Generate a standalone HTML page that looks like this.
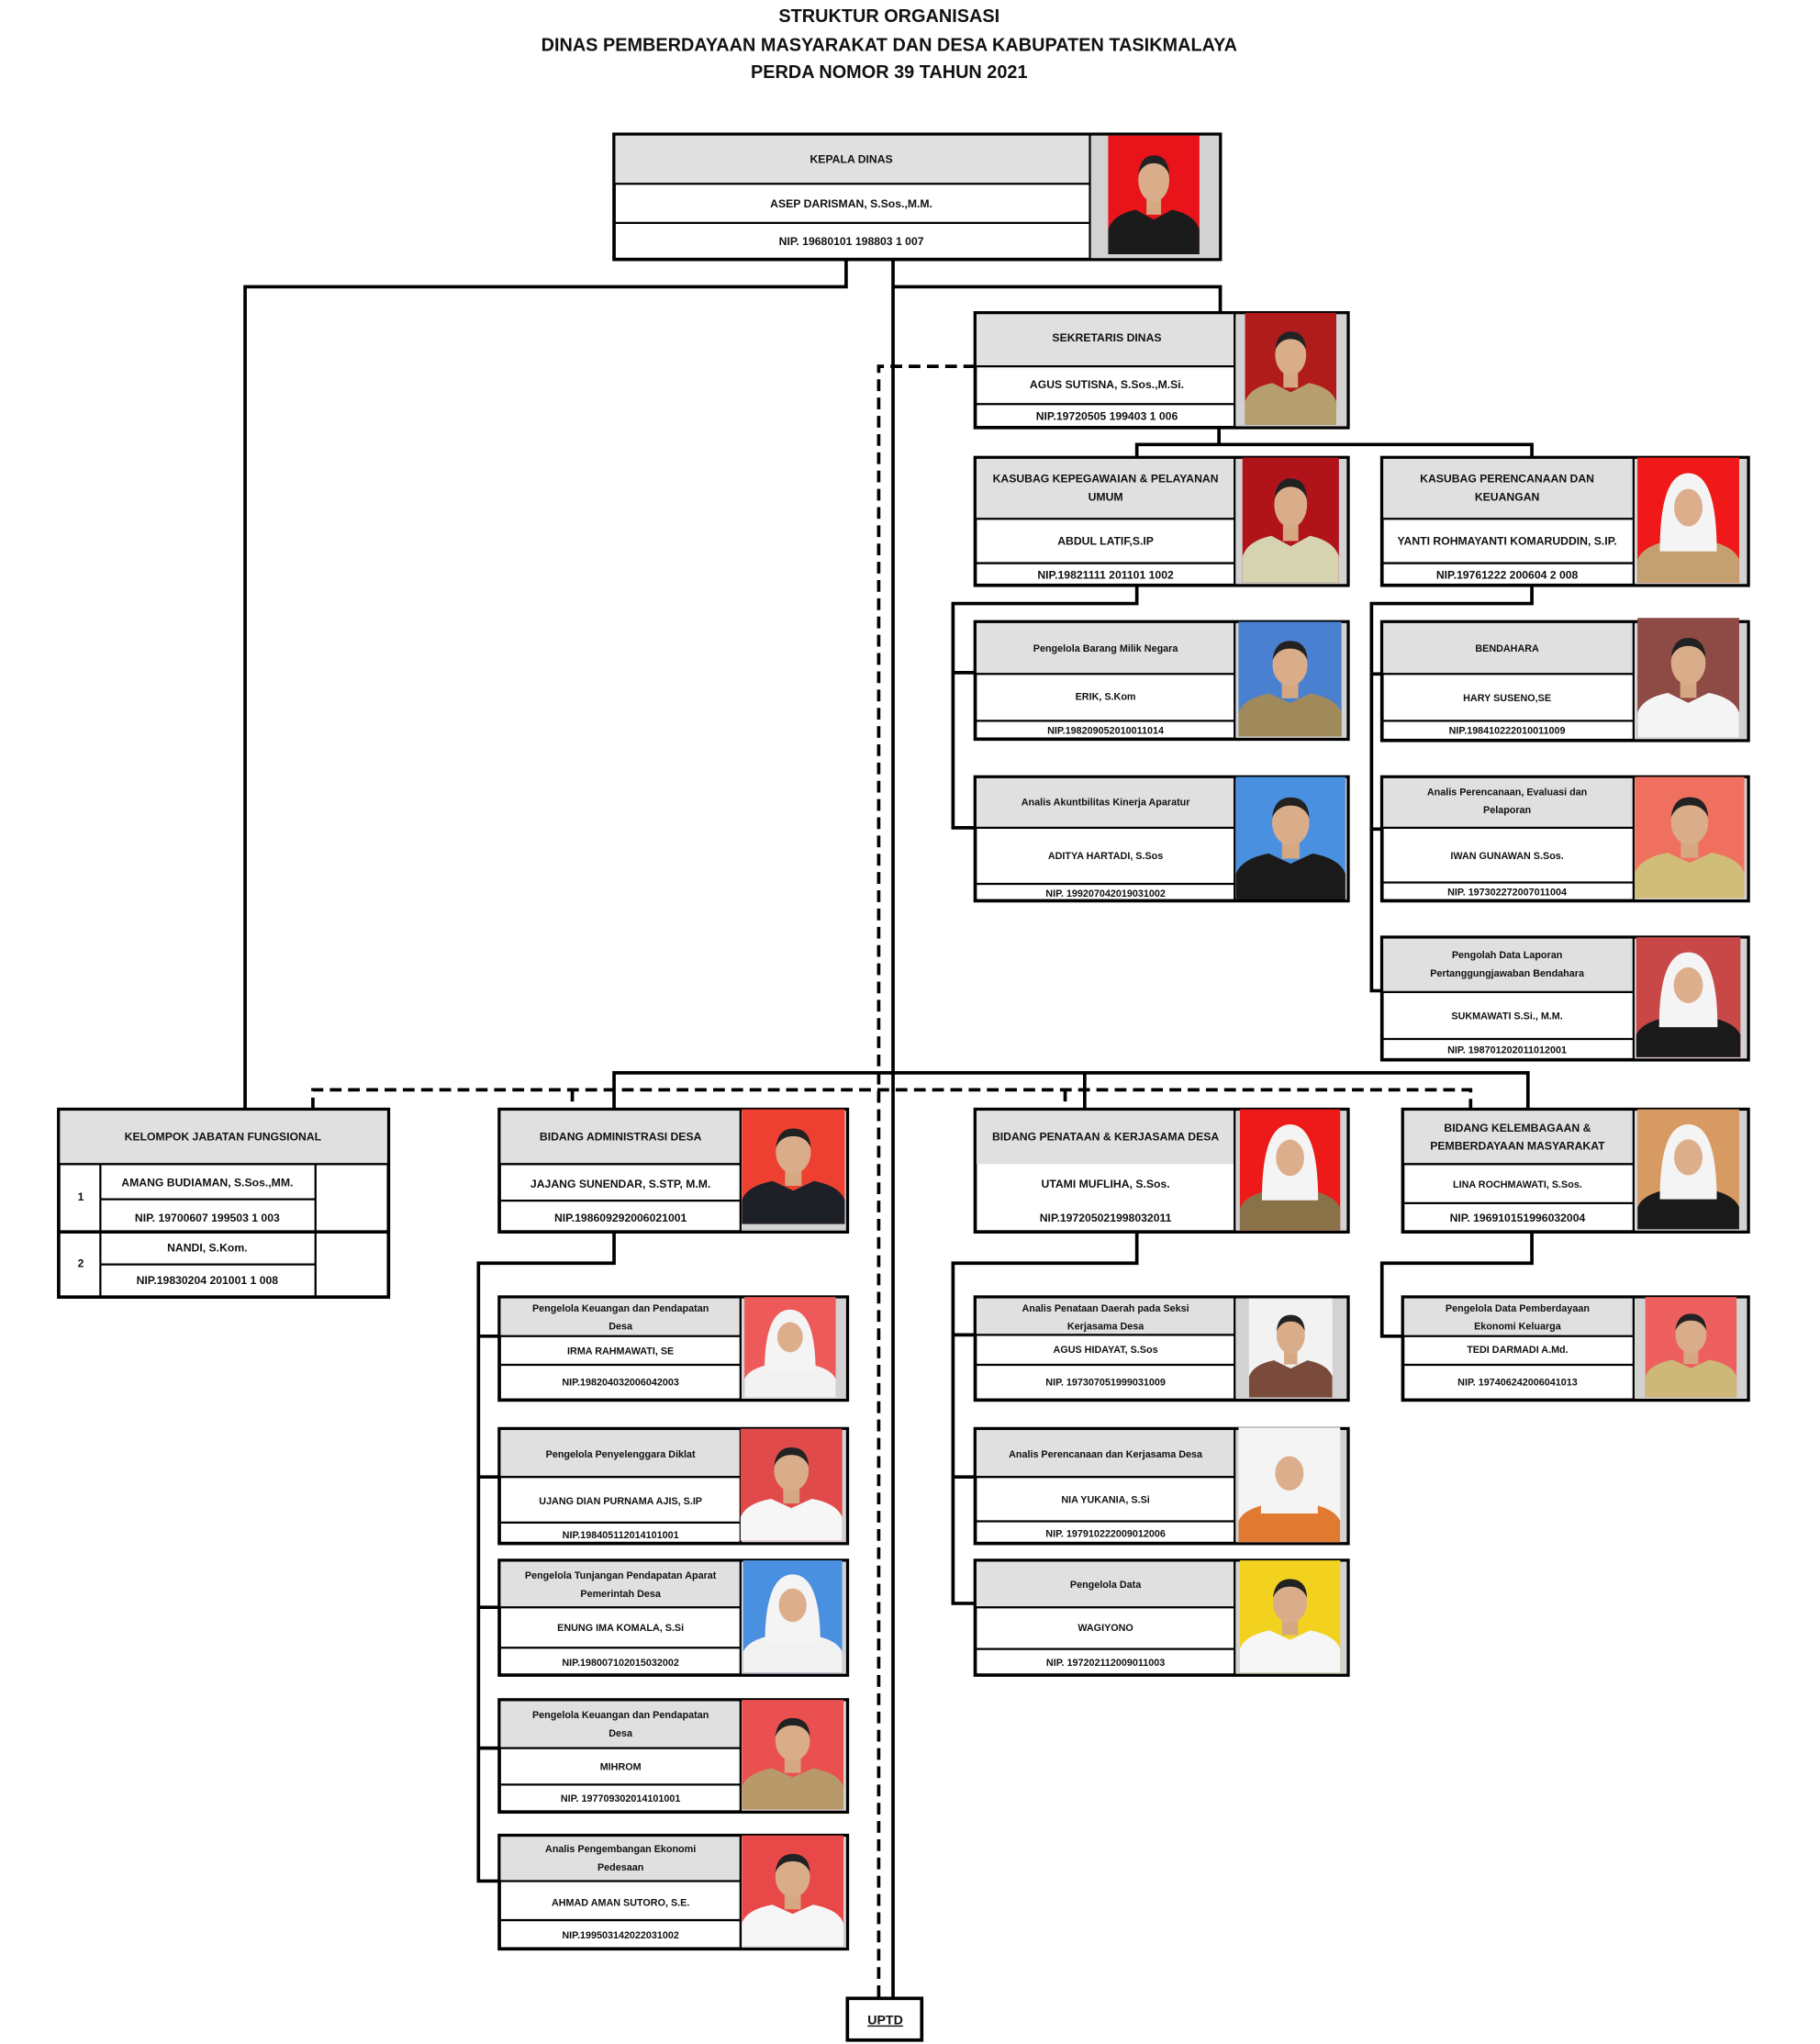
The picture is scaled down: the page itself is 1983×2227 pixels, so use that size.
<!DOCTYPE html>
<html><head><meta charset="utf-8"><style>
html,body{margin:0;padding:0;background:#fff}
svg{display:block}
text{font-family:"Liberation Sans",sans-serif;font-weight:bold;fill:#111;text-anchor:middle}
.tt{font-family:"Liberation Sans Narrow","Liberation Sans",sans-serif;font-size:14px}
.t{font-size:7.6px}
.n{font-family:"Liberation Sans Narrow","Liberation Sans",sans-serif;font-size:8.6px}
.b{fill:#fff;stroke:#000;stroke-width:2.6}
.h{fill:#e0e0e0}
.l{stroke:#000;stroke-width:1.6}
.c{fill:none;stroke:#000;stroke-width:2.6}
.d{fill:none;stroke:#000;stroke-width:2.6;stroke-dasharray:9 5}
.pg{fill:#d2d2d2}
</style></head><body>
<svg width="1983" height="2227" viewBox="0 0 1396 1568" preserveAspectRatio="none" xmlns="http://www.w3.org/2000/svg">
<defs>
<symbol id="p" viewBox="0 0 100 120" preserveAspectRatio="none">
<path d="M0 120 L0 95 Q5 80 30 75 L50 85 L70 75 Q95 80 100 95 L100 120Z" fill="currentColor"/>
<rect x="42" y="62" width="16" height="18" fill="#d6a882"/>
<ellipse cx="50" cy="45" rx="17" ry="22" fill="#d9ad8a"/>
<path d="M33 40 Q35 20 50 20 Q66 20 67 40 Q62 28 50 28 Q38 28 33 40Z" fill="#222"/>
</symbol>
<symbol id="w" viewBox="0 0 100 120" preserveAspectRatio="none">
<path d="M0 120 L0 98 Q5 85 30 80 L70 80 Q95 85 100 98 L100 120Z" fill="currentColor"/>
<path d="M22 90 Q22 15 50 15 Q78 15 78 90 Z" fill="#f4f4f4"/>
<ellipse cx="50" cy="48" rx="14" ry="18" fill="#dcae8c"/>
</symbol>
</defs>

<text class="tt" x="682" y="17">STRUKTUR ORGANISASI</text>
<text class="tt" x="682" y="39">DINAS PEMBERDAYAAN MASYARAKAT DAN DESA KABUPATEN TASIKMALAYA</text>
<text class="tt" x="682" y="60">PERDA NOMOR 39 TAHUN 2021</text>

<polyline class="c" points="649,199 649,220 188,220 188,851"/>
<line class="c" x1="685" y1="199" x2="685" y2="1533"/>
<polyline class="c" points="685,220 936,220 936,240"/>
<polyline class="d" points="748,281 674,281 674,1533"/>
<polyline class="c" points="471,851 471,823 1172,823 1172,851"/>
<line class="c" x1="832" y1="823" x2="832" y2="851"/>
<polyline class="d" points="240,851 240,836 1128,836 1128,851"/>
<line class="d" x1="439" y1="836" x2="439" y2="851"/>
<line class="d" x1="817" y1="836" x2="817" y2="851"/>
<polyline class="c" points="935,328 935,341"/>
<polyline class="c" points="872,351 872,341 1175,341 1175,351"/>
<polyline class="c" points="872,449 872,463 731,463 731,635 748,635"/>
<line class="c" x1="731" y1="516" x2="748" y2="516"/>
<polyline class="c" points="1175,449 1175,463 1052,463 1052,760 1060,760"/>
<line class="c" x1="1052" y1="517" x2="1060" y2="517"/>
<line class="c" x1="1052" y1="636" x2="1060" y2="636"/>
<polyline class="c" points="471,945 471,969 367,969 367,1443 383,1443"/>
<line class="c" x1="367" y1="1025" x2="383" y2="1025"/>
<line class="c" x1="367" y1="1133" x2="383" y2="1133"/>
<line class="c" x1="367" y1="1233" x2="383" y2="1233"/>
<line class="c" x1="367" y1="1341" x2="383" y2="1341"/>
<polyline class="c" points="872,945 872,969 731,969 731,1230 748,1230"/>
<line class="c" x1="731" y1="1024" x2="748" y2="1024"/>
<line class="c" x1="731" y1="1133" x2="748" y2="1133"/>
<polyline class="c" points="1175,945 1175,969 1060,969 1060,1025 1076,1025"/>

<rect class="b" x="471" y="103" width="465" height="96"/>
<rect class="h" x="472" y="104" width="364" height="37"/>
<rect class="pg" x="837" y="104" width="98" height="94"/>
<line class="l" x1="471" y1="141" x2="836" y2="141"/><line class="l" x1="471" y1="171" x2="836" y2="171"/><line class="l" x1="836" y1="103" x2="836" y2="199"/>
<rect x="850" y="104" width="70" height="91" fill="#e8141a"/><use href="#p" x="850" y="104" width="70" height="91" style="color:#1b1b1b"/>
<text class="n" x="653" y="125">KEPALA DINAS</text><text class="n" x="653" y="159">ASEP DARISMAN, S.Sos.,M.M.</text><text class="n" x="653" y="188">NIP. 19680101 198803 1 007</text>

<rect class="b" x="748" y="240" width="286" height="88"/>
<rect class="h" x="749" y="241" width="198" height="40"/>
<rect class="pg" x="948" y="241" width="85" height="86"/>
<line class="l" x1="748" y1="281" x2="947" y2="281"/><line class="l" x1="748" y1="310" x2="947" y2="310"/><line class="l" x1="947" y1="240" x2="947" y2="328"/>
<rect x="955" y="240" width="70" height="86" fill="#b01c1c"/><use href="#p" x="955" y="240" width="70" height="86" style="color:#b79e6e"/>
<text class="n" x="849" y="262">SEKRETARIS DINAS</text><text class="n" x="849" y="298">AGUS SUTISNA, S.Sos.,M.Si.</text><text class="n" x="849" y="322">NIP.19720505 199403 1 006</text>

<rect class="b" x="748" y="351" width="286" height="98"/>
<rect class="h" x="749" y="352" width="198" height="46"/>
<rect class="pg" x="948" y="352" width="85" height="96"/>
<line class="l" x1="748" y1="398" x2="947" y2="398"/><line class="l" x1="748" y1="432" x2="947" y2="432"/><line class="l" x1="947" y1="351" x2="947" y2="449"/>
<rect x="953" y="351" width="74" height="96" fill="#b0141a"/><use href="#p" x="953" y="351" width="74" height="96" style="color:#d6d3b0"/>
<text class="n" x="848" y="370">KASUBAG KEPEGAWAIAN &amp; PELAYANAN</text><text class="n" x="848" y="384">UMUM</text><text class="n" x="848" y="418">ABDUL LATIF,S.IP</text><text class="n" x="848" y="444">NIP.19821111 201101 1002</text>

<rect class="b" x="1060" y="351" width="281" height="98"/>
<rect class="h" x="1061" y="352" width="192" height="46"/>
<rect class="pg" x="1254" y="352" width="86" height="96"/>
<line class="l" x1="1060" y1="398" x2="1253" y2="398"/><line class="l" x1="1060" y1="432" x2="1253" y2="432"/><line class="l" x1="1253" y1="351" x2="1253" y2="449"/>
<rect x="1256" y="351" width="78" height="96" fill="#f01818"/><use href="#w" x="1256" y="351" width="78" height="96" style="color:#c4a070"/>
<text class="n" x="1156" y="370">KASUBAG PERENCANAAN DAN</text><text class="n" x="1156" y="384">KEUANGAN</text><text class="n" x="1156" y="418">YANTI ROHMAYANTI KOMARUDDIN, S.IP.</text><text class="n" x="1156" y="444">NIP.19761222 200604 2 008</text>

<rect class="b" x="748" y="477" width="286" height="90"/>
<rect class="h" x="749" y="478" width="198" height="39"/>
<rect class="pg" x="948" y="478" width="85" height="88"/>
<line class="l" x1="748" y1="517" x2="947" y2="517"/><line class="l" x1="748" y1="553" x2="947" y2="553"/><line class="l" x1="947" y1="477" x2="947" y2="567"/>
<rect x="950" y="477" width="79" height="88" fill="#4a80d0"/><use href="#p" x="950" y="477" width="79" height="88" style="color:#a08a5c"/>
<text class="t" x="848" y="500">Pengelola Barang Milik Negara</text><text class="t" x="848" y="537">ERIK, S.Kom</text><text class="t" x="848" y="563">NIP.198209052010011014</text>

<rect class="b" x="748" y="596" width="286" height="95"/>
<rect class="h" x="749" y="597" width="198" height="38"/>
<rect class="pg" x="948" y="597" width="85" height="93"/>
<line class="l" x1="748" y1="635" x2="947" y2="635"/><line class="l" x1="748" y1="678" x2="947" y2="678"/><line class="l" x1="947" y1="596" x2="947" y2="691"/>
<rect x="948" y="596" width="84" height="94" fill="#4a90e0"/><use href="#p" x="948" y="596" width="84" height="94" style="color:#1a1a1a"/>
<text class="t" x="848" y="618">Analis Akuntbilitas Kinerja Aparatur</text><text class="t" x="848" y="659">ADITYA HARTADI, S.Sos</text><text class="t" x="848" y="688">NIP. 199207042019031002</text>

<rect class="b" x="1060" y="477" width="281" height="91"/>
<rect class="h" x="1061" y="478" width="192" height="39"/>
<rect class="pg" x="1254" y="478" width="86" height="89"/>
<line class="l" x1="1060" y1="517" x2="1253" y2="517"/><line class="l" x1="1060" y1="553" x2="1253" y2="553"/><line class="l" x1="1253" y1="477" x2="1253" y2="568"/>
<rect x="1256" y="474" width="78" height="92" fill="#8e4a44"/><use href="#p" x="1256" y="474" width="78" height="92" style="color:#f4f4f4"/>
<text class="t" x="1156" y="500">BENDAHARA</text><text class="t" x="1156" y="538">HARY SUSENO,SE</text><text class="t" x="1156" y="563">NIP.198410222010011009</text>

<rect class="b" x="1060" y="596" width="281" height="95"/>
<rect class="h" x="1061" y="597" width="192" height="38"/>
<rect class="pg" x="1254" y="597" width="86" height="93"/>
<line class="l" x1="1060" y1="635" x2="1253" y2="635"/><line class="l" x1="1060" y1="677" x2="1253" y2="677"/><line class="l" x1="1253" y1="596" x2="1253" y2="691"/>
<rect x="1254" y="596" width="84" height="93" fill="#f07060"/><use href="#p" x="1254" y="596" width="84" height="93" style="color:#cfbd78"/>
<text class="t" x="1156" y="610">Analis Perencanaan, Evaluasi dan</text><text class="t" x="1156" y="624">Pelaporan</text><text class="t" x="1156" y="659">IWAN GUNAWAN S.Sos.</text><text class="t" x="1156" y="687">NIP. 197302272007011004</text>

<rect class="b" x="1060" y="719" width="281" height="94"/>
<rect class="h" x="1061" y="720" width="192" height="41"/>
<rect class="pg" x="1254" y="720" width="86" height="92"/>
<line class="l" x1="1060" y1="761" x2="1253" y2="761"/><line class="l" x1="1060" y1="797" x2="1253" y2="797"/><line class="l" x1="1253" y1="719" x2="1253" y2="813"/>
<rect x="1255" y="719" width="80" height="92" fill="#c84848"/><use href="#w" x="1255" y="719" width="80" height="92" style="color:#1a1a1a"/>
<text class="t" x="1156" y="735">Pengolah Data Laporan</text><text class="t" x="1156" y="749">Pertanggungjawaban Bendahara</text><text class="t" x="1156" y="782">SUKMAWATI S.Si., M.M.</text><text class="t" x="1156" y="808">NIP. 198701202011012001</text>

<rect class="b" x="45" y="851" width="253" height="144"/>
<rect class="h" x="46" y="852" width="251" height="41"/>
<line class="l" x1="45" y1="893" x2="298" y2="893"/>
<line class="c" x1="45" y1="945" x2="298" y2="945"/>
<line class="l" x1="77" y1="920" x2="242" y2="920"/><line class="l" x1="77" y1="970" x2="242" y2="970"/>
<line class="l" x1="77" y1="893" x2="77" y2="995"/><line class="l" x1="242" y1="893" x2="242" y2="995"/>
<text class="n" x="171" y="875">KELOMPOK JABATAN FUNGSIONAL</text>
<text class="n" x="62" y="921">1</text><text class="n" x="62" y="972">2</text>
<text class="n" x="159" y="910">AMANG BUDIAMAN, S.Sos.,MM.</text><text class="n" x="159" y="937">NIP. 19700607 199503 1 003</text>
<text class="n" x="159" y="960">NANDI, S.Kom.</text><text class="n" x="159" y="985">NIP.19830204 201001 1 008</text>

<rect class="b" x="383" y="851" width="267" height="94"/>
<rect class="h" x="384" y="852" width="184" height="41"/>
<rect class="pg" x="569" y="852" width="80" height="92"/>
<line class="l" x1="383" y1="893" x2="568" y2="893"/><line class="l" x1="383" y1="921" x2="568" y2="921"/><line class="l" x1="568" y1="851" x2="568" y2="945"/>
<rect x="569" y="851" width="79" height="88" fill="#ee4030"/><use href="#p" x="569" y="851" width="79" height="88" style="color:#1e2028"/>
<text class="n" x="476" y="875">BIDANG ADMINISTRASI DESA</text><text class="n" x="476" y="911">JAJANG SUNENDAR, S.STP, M.M.</text><text class="n" x="476" y="937">NIP.198609292006021001</text>

<rect class="b" x="748" y="851" width="286" height="94"/>
<rect class="h" x="749" y="852" width="198" height="41"/>
<rect class="pg" x="948" y="852" width="85" height="92"/>
<line class="l" x1="947" y1="851" x2="947" y2="945"/>
<rect x="951" y="851" width="77" height="93" fill="#ee1a1a"/><use href="#w" x="951" y="851" width="77" height="93" style="color:#8a7248"/>
<text class="n" x="848" y="875">BIDANG PENATAAN &amp; KERJASAMA DESA</text><text class="n" x="848" y="911">UTAMI MUFLIHA, S.Sos.</text><text class="n" x="848" y="937">NIP.197205021998032011</text>

<rect class="b" x="1076" y="851" width="265" height="94"/>
<rect class="h" x="1077" y="852" width="176" height="41"/>
<rect class="pg" x="1254" y="852" width="86" height="92"/>
<line class="l" x1="1076" y1="893" x2="1253" y2="893"/><line class="l" x1="1076" y1="923" x2="1253" y2="923"/><line class="l" x1="1253" y1="851" x2="1253" y2="945"/>
<rect x="1256" y="851" width="78" height="92" fill="#d69a62"/><use href="#w" x="1256" y="851" width="78" height="92" style="color:#1a1a1a"/>
<text class="n" x="1164" y="868">BIDANG KELEMBAGAAN &amp;</text><text class="n" x="1164" y="882">PEMBERDAYAAN MASYARAKAT</text><text class="t" x="1164" y="911">LINA ROCHMAWATI, S.Sos.</text><text class="n" x="1164" y="937">NIP. 196910151996032004</text>

<rect class="b" x="383" y="995" width="267" height="79"/>
<rect class="h" x="384" y="996" width="184" height="29"/>
<rect class="pg" x="569" y="996" width="80" height="77"/>
<line class="l" x1="383" y1="1025" x2="568" y2="1025"/><line class="l" x1="383" y1="1047" x2="568" y2="1047"/><line class="l" x1="568" y1="995" x2="568" y2="1074"/>
<rect x="571" y="995" width="70" height="77" fill="#ee5a5a"/><use href="#w" x="571" y="995" width="70" height="77" style="color:#f2f2f2"/>
<text class="t" x="476" y="1006">Pengelola Keuangan dan Pendapatan</text><text class="t" x="476" y="1020">Desa</text><text class="t" x="476" y="1039">IRMA RAHMAWATI, SE</text><text class="t" x="476" y="1063">NIP.198204032006042003</text>

<rect class="b" x="383" y="1096" width="267" height="88"/>
<rect class="h" x="384" y="1097" width="184" height="36"/>
<rect class="pg" x="569" y="1097" width="80" height="86"/>
<line class="l" x1="383" y1="1133" x2="568" y2="1133"/><line class="l" x1="383" y1="1168" x2="568" y2="1168"/><line class="l" x1="568" y1="1096" x2="568" y2="1184"/>
<rect x="568" y="1096" width="78" height="86" fill="#e04a4a"/><use href="#p" x="568" y="1096" width="78" height="86" style="color:#f6f6f6"/>
<text class="t" x="476" y="1118">Pengelola Penyelenggara Diklat</text><text class="t" x="476" y="1154">UJANG DIAN PURNAMA AJIS, S.IP</text><text class="t" x="476" y="1180">NIP.198405112014101001</text>

<rect class="b" x="383" y="1197" width="267" height="88"/>
<rect class="h" x="384" y="1198" width="184" height="35"/>
<rect class="pg" x="569" y="1198" width="80" height="86"/>
<line class="l" x1="383" y1="1233" x2="568" y2="1233"/><line class="l" x1="383" y1="1264" x2="568" y2="1264"/><line class="l" x1="568" y1="1197" x2="568" y2="1285"/>
<rect x="570" y="1197" width="76" height="86" fill="#4a90e0"/><use href="#w" x="570" y="1197" width="76" height="86" style="color:#f2f2f2"/>
<text class="t" x="476" y="1211">Pengelola Tunjangan Pendapatan Aparat</text><text class="t" x="476" y="1225">Pemerintah Desa</text><text class="t" x="476" y="1251">ENUNG IMA KOMALA, S.Si</text><text class="t" x="476" y="1278">NIP.198007102015032002</text>

<rect class="b" x="383" y="1304" width="267" height="86"/>
<rect class="h" x="384" y="1305" width="184" height="36"/>
<rect class="pg" x="569" y="1305" width="80" height="84"/>
<line class="l" x1="383" y1="1341" x2="568" y2="1341"/><line class="l" x1="383" y1="1369" x2="568" y2="1369"/><line class="l" x1="568" y1="1304" x2="568" y2="1390"/>
<rect x="569" y="1304" width="78" height="84" fill="#ea5050"/><use href="#p" x="569" y="1304" width="78" height="84" style="color:#b89a6a"/>
<text class="t" x="476" y="1318">Pengelola Keuangan dan Pendapatan</text><text class="t" x="476" y="1332">Desa</text><text class="t" x="476" y="1358">MIHROM</text><text class="t" x="476" y="1382">NIP. 197709302014101001</text>

<rect class="b" x="383" y="1408" width="267" height="87"/>
<rect class="h" x="384" y="1409" width="184" height="34"/>
<rect class="pg" x="569" y="1409" width="80" height="85"/>
<line class="l" x1="383" y1="1443" x2="568" y2="1443"/><line class="l" x1="383" y1="1473" x2="568" y2="1473"/><line class="l" x1="568" y1="1408" x2="568" y2="1495"/>
<rect x="569" y="1408" width="78" height="85" fill="#e84848"/><use href="#p" x="569" y="1408" width="78" height="85" style="color:#f6f6f6"/>
<text class="t" x="476" y="1421">Analis Pengembangan Ekonomi</text><text class="t" x="476" y="1435">Pedesaan</text><text class="t" x="476" y="1462">AHMAD AMAN SUTORO, S.E.</text><text class="t" x="476" y="1487">NIP.199503142022031002</text>

<rect class="b" x="748" y="995" width="286" height="79"/>
<rect class="h" x="749" y="996" width="198" height="28"/>
<rect class="pg" x="948" y="996" width="85" height="77"/>
<line class="l" x1="748" y1="1024" x2="947" y2="1024"/><line class="l" x1="748" y1="1047" x2="947" y2="1047"/><line class="l" x1="947" y1="995" x2="947" y2="1074"/>
<rect x="958" y="996" width="64" height="76" fill="#f2f2f2"/><use href="#p" x="958" y="996" width="64" height="76" style="color:#7a4a3a"/>
<text class="t" x="848" y="1006">Analis Penataan Daerah pada Seksi</text><text class="t" x="848" y="1020">Kerjasama Desa</text><text class="t" x="848" y="1038">AGUS HIDAYAT, S.Sos</text><text class="t" x="848" y="1063">NIP. 197307051999031009</text>

<rect class="b" x="748" y="1096" width="286" height="88"/>
<rect class="h" x="749" y="1097" width="198" height="36"/>
<rect class="pg" x="948" y="1097" width="85" height="86"/>
<line class="l" x1="748" y1="1133" x2="947" y2="1133"/><line class="l" x1="748" y1="1167" x2="947" y2="1167"/><line class="l" x1="947" y1="1096" x2="947" y2="1184"/>
<rect x="950" y="1095" width="78" height="88" fill="#f4f4f4"/><use href="#w" x="950" y="1095" width="78" height="88" style="color:#e07a30"/>
<text class="t" x="848" y="1118">Analis Perencanaan dan Kerjasama Desa</text><text class="t" x="848" y="1153">NIA YUKANIA, S.Si</text><text class="t" x="848" y="1179">NIP. 197910222009012006</text>

<rect class="b" x="748" y="1197" width="286" height="88"/>
<rect class="h" x="749" y="1198" width="198" height="35"/>
<rect class="pg" x="948" y="1198" width="85" height="86"/>
<line class="l" x1="748" y1="1233" x2="947" y2="1233"/><line class="l" x1="748" y1="1265" x2="947" y2="1265"/><line class="l" x1="947" y1="1197" x2="947" y2="1285"/>
<rect x="951" y="1197" width="77" height="86" fill="#f2d21e"/><use href="#p" x="951" y="1197" width="77" height="86" style="color:#f6f6f6"/>
<text class="t" x="848" y="1218">Pengelola Data</text><text class="t" x="848" y="1251">WAGIYONO</text><text class="t" x="848" y="1278">NIP. 197202112009011003</text>

<rect class="b" x="1076" y="995" width="265" height="79"/>
<rect class="h" x="1077" y="996" width="176" height="29"/>
<rect class="pg" x="1254" y="996" width="86" height="77"/>
<line class="l" x1="1076" y1="1025" x2="1253" y2="1025"/><line class="l" x1="1076" y1="1047" x2="1253" y2="1047"/><line class="l" x1="1253" y1="995" x2="1253" y2="1074"/>
<rect x="1262" y="995" width="70" height="77" fill="#ee6060"/><use href="#p" x="1262" y="995" width="70" height="77" style="color:#cdb878"/>
<text class="t" x="1164" y="1006">Pengelola Data Pemberdayaan</text><text class="t" x="1164" y="1020">Ekonomi Keluarga</text><text class="t" x="1164" y="1038">TEDI DARMADI A.Md.</text><text class="t" x="1164" y="1063">NIP. 197406242006041013</text>

<rect class="b" x="650" y="1533" width="57" height="32"/>
<text class="n" x="679" y="1553" style="font-size:10px;text-decoration:underline">UPTD</text>
</svg>
</body></html>
